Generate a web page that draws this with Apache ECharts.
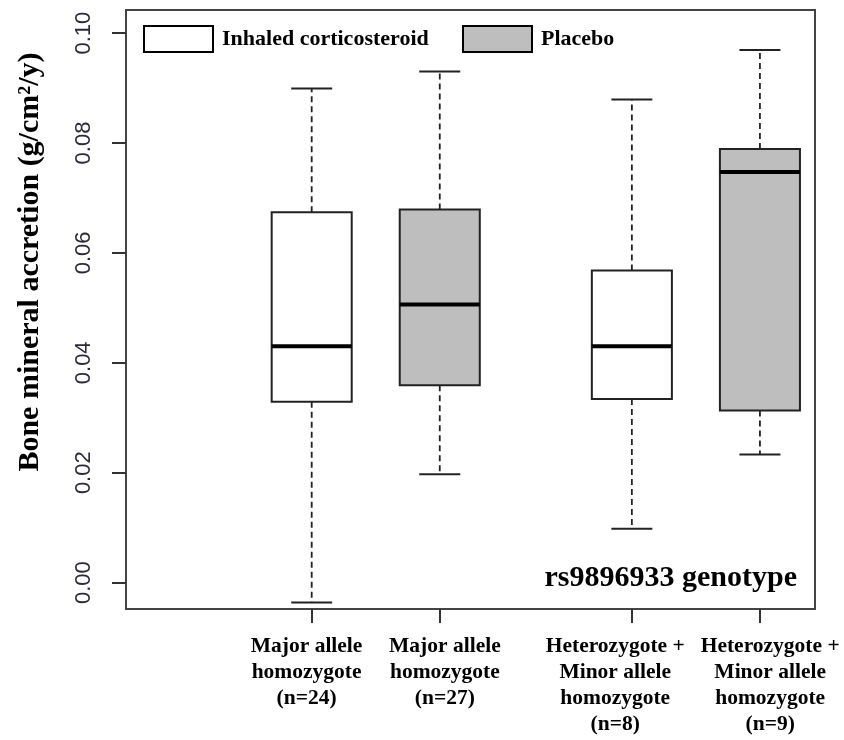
<!DOCTYPE html>
<html>
<head>
<meta charset="utf-8">
<script src="https://cdn.jsdelivr.net/npm/echarts@6/dist/echarts.min.js"></script>
<style>
  html, body { margin: 0; padding: 0; background: #fff; }
  #chart { width: 844px; height: 740px; }
</style>
</head>
<body>
<div id="chart"></div>
<script>
// treatment groups (legend)
const groups = ['Inhaled corticosteroid', 'Placebo'];
const groupColors = ['#ffffff', '#bebebe'];

// genotype boxes, left to right
const xPos = [1, 2, 3.5, 4.5];
const labelPos = [0.96, 2.04, 3.37, 4.58]; // labels were nudged apart a little in the original
const groupOfBox = [0, 1, 0, 1];
const xLabels = [
    'Major allele\nhomozygote\n(n=24)',
    'Major allele\nhomozygote\n(n=27)',
    'Heterozygote +\nMinor allele\nhomozygote\n(n=8)',
    'Heterozygote +\nMinor allele\nhomozygote\n(n=9)'
];

// box statistics (g/cm2/y)
const whiskerLow = [-0.0036, 0.0197, 0.0098, 0.0233];
const q1 = [0.0329, 0.0359, 0.0334, 0.0313];
const median = [0.0430, 0.0506, 0.0430, 0.0747];
const q3 = [0.0674, 0.0679, 0.0568, 0.0789];
const whiskerHigh = [0.0899, 0.0930, 0.0879, 0.0969];

const yTicks = [0, 0.02, 0.04, 0.06, 0.08, 0.10];

const serif = '"Liberation Serif", "Times New Roman", serif';
const boxWidth = 0.625;   // in x units
const capWidth = 0.32;

function renderBox(params, api) {
    const x = api.value(0);
    const pLow = api.coord([x, api.value(1)]);
    const pQ1 = api.coord([x, api.value(2)]);
    const pMed = api.coord([x, api.value(3)]);
    const pQ3 = api.coord([x, api.value(4)]);
    const pHigh = api.coord([x, api.value(5)]);
    const hw = api.size([boxWidth, 0])[0] / 2;
    const cw = api.size([capWidth, 0])[0] / 2;
    const cx = pMed[0];
    const fill = api.visual('color');
    const lineCol = '#222';
    const dash = { stroke: lineCol, lineWidth: 1.8, lineDash: [6, 4] };
    const solid = { stroke: lineCol, lineWidth: 2 };
    return {
        type: 'group',
        children: [
            { type: 'line', shape: { x1: cx, y1: pQ3[1], x2: cx, y2: pHigh[1] }, style: dash },
            { type: 'line', shape: { x1: cx, y1: pQ1[1], x2: cx, y2: pLow[1] }, style: dash },
            { type: 'line', shape: { x1: cx - cw, y1: pHigh[1], x2: cx + cw, y2: pHigh[1] }, style: solid },
            { type: 'line', shape: { x1: cx - cw, y1: pLow[1], x2: cx + cw, y2: pLow[1] }, style: solid },
            {
                type: 'rect',
                shape: { x: cx - hw, y: pQ3[1], width: hw * 2, height: pQ1[1] - pQ3[1] },
                style: { fill: fill, stroke: lineCol, lineWidth: 2 }
            },
            { type: 'line', shape: { x1: cx - hw, y1: pMed[1], x2: cx + hw, y2: pMed[1] }, style: { stroke: '#000', lineWidth: 4 } }
        ]
    };
}

const series = groups.map((g, gi) => {
    const data = [];
    xPos.forEach((x, i) => {
        if (groupOfBox[i] === gi) {
            data.push([x, whiskerLow[i], q1[i], median[i], q3[i], whiskerHigh[i]]);
        }
    });
    return {
        name: g,
        type: 'custom',
        renderItem: renderBox,
        itemStyle: { color: groupColors[gi], borderColor: '#000', borderWidth: 2 },
        encode: { x: 0, y: [1, 2, 3, 4, 5] },
        data: data
    };
});

const legendText = { fontFamily: serif, fontWeight: 'bold', fontSize: 22, color: '#000', padding: [0, 0, 0, 4] };

const chart = echarts.init(document.getElementById('chart'));
chart.setOption({
    animation: false,
    backgroundColor: '#fff',
    grid: {
        left: 126, top: 10, right: 29, bottom: 131,
        show: true, borderColor: '#444', borderWidth: 2, backgroundColor: 'transparent'
    },
    legend: groups.map((g, gi) => ({
        data: [{ name: g, icon: 'rect', itemStyle: { color: groupColors[gi], borderColor: '#000', borderWidth: 2 } }],
        left: gi === 0 ? 143 : 462,
        top: 25,
        itemWidth: 69,
        itemHeight: 26,
        itemGap: 10,
        padding: 0,
        selectedMode: false,
        textStyle: legendText
    })),
    xAxis: {
        type: 'value',
        min: -0.45,
        max: 4.93,
        splitLine: { show: false },
        axisLine: { show: false, onZero: false },
        axisTick: { show: true, length: 14, customValues: xPos, lineStyle: { color: '#333', width: 2 } },
        axisLabel: {
            customValues: labelPos,
            margin: 24,
            formatter: v => xLabels[labelPos.indexOf(v)] || '',
            fontFamily: serif,
            fontWeight: 'bold',
            fontSize: 21.5,
            lineHeight: 26,
            color: '#000',
            verticalAlign: 'top'
        }
    },
    yAxis: {
        type: 'value',
        min: -0.0048,
        max: 0.1042,
        splitLine: { show: false },
        axisLine: { show: false, onZero: false },
        axisTick: { show: true, length: 14, customValues: yTicks, lineStyle: { color: '#333', width: 2 } },
        axisLabel: {
            customValues: yTicks,
            rotate: 90,
            margin: 31,
            formatter: v => v.toFixed(2),
            fontFamily: '"Liberation Sans", Arial, sans-serif',
            fontSize: 22,
            color: '#2a2a3a'
        }
    },
    graphic: [
        {
            type: 'text',
            x: 30,
            y: 262,
            rotation: Math.PI / 2,
            style: {
                text: 'Bone mineral accretion (g/cm²/y)',
                fontFamily: serif,
                fontWeight: 'bold',
                fontSize: 30,
                fill: '#000',
                align: 'center',
                verticalAlign: 'middle'
            }
        },
        {
            type: 'text',
            x: 797,
            y: 578,
            style: {
                text: 'rs9896933 genotype',
                fontFamily: serif,
                fontWeight: 'bold',
                fontSize: 30,
                fill: '#000',
                align: 'right',
                verticalAlign: 'middle'
            }
        }
    ],
    series: series
});
</script>
</body>
</html>
